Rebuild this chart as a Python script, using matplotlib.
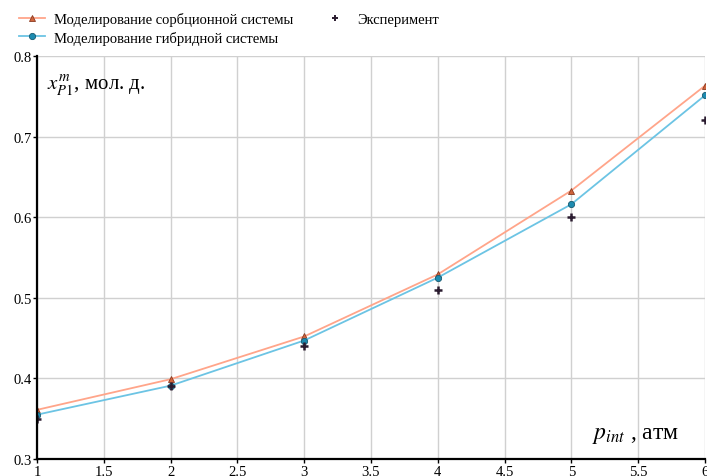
import matplotlib
matplotlib.use("Agg")
import matplotlib.pyplot as plt

plt.rcParams['font.family'] = ['Liberation Serif', 'DejaVu Serif']
plt.rcParams['mathtext.fontset'] = 'stix'

# data
p_int = [1, 2, 3, 4, 5, 6]
sorb = [0.361, 0.399, 0.452, 0.529, 0.633, 0.763]
hybrid = [0.355, 0.391, 0.447, 0.525, 0.616, 0.751]
exp_x = [1, 2, 3, 4, 5, 6]
exp_y = [0.350, 0.390, 0.440, 0.510, 0.600, 0.720]

x_ticks = [1, 1.5, 2, 2.5, 3, 3.5, 4, 4.5, 5, 5.5, 6]
x_labels = ["1", "1.5", "2", "2.5", "3", "3.5", "4", "4.5", "5", "5.5", "6"]
y_ticks = [0.3, 0.4, 0.5, 0.6, 0.7, 0.8]

fig = plt.figure(figsize=(7.07, 4.77), dpi=100)
ax = fig.add_axes([0.0523, 0.0356, 0.9447, 0.845])

ax.plot(p_int, sorb, color="#ffa58a", lw=1.3, marker="^", ms=5,
        mfc="#d0643c", mec="#8a3a20", mew=0.6,
        label="Моделирование сорбционной системы")
ax.plot(p_int, hybrid, color="#6cc4e4", lw=1.3, marker="o", ms=4.5,
        mfc="#1d8bb0", mec="#175a70", mew=0.6,
        label="Моделирование гибридной системы")
ax.plot(exp_x, exp_y, ls="none", marker="+", ms=6, mew=1.8,
        color="#2b1c30", label="Эксперимент")

ax.set_xlim(1, 6)
ax.set_ylim(0.3, 0.8)
ax.set_xticks(x_ticks)
ax.set_xticklabels(x_labels)
ax.set_yticks(y_ticks)
ax.set_yticklabels(["%.1f" % v for v in y_ticks])
ax.tick_params(labelsize=10.5, length=3, width=1, pad=1)
ax.grid(True, color="#d0d0d0", lw=1)
ax.set_axisbelow(True)
for s in ["top", "right"]:
    ax.spines[s].set_visible(False)
ax.spines["left"].set_linewidth(1.6)
ax.spines["bottom"].set_linewidth(1.6)

ax.text(0.015, 0.93, r"$x_{P1}^{m}$, мол. д.", transform=ax.transAxes,
        fontsize=15, va="center", ha="left")
ax.text(0.831, 0.06, r"$p_{int}$ , атм", transform=ax.transAxes,
        fontsize=17, va="center", ha="left")

leg = fig.legend(loc="upper left", bbox_to_anchor=(0.008, 1.0), ncol=2,
                 frameon=False, fontsize=10.5, handlelength=1.8,
                 columnspacing=2.0, handletextpad=0.6, labelspacing=0.3)
leg.legend_handles[2].set_markersize(4.5)
leg.legend_handles[2].set_markeredgewidth(1.4)

fig.savefig("out.png", dpi=100)
